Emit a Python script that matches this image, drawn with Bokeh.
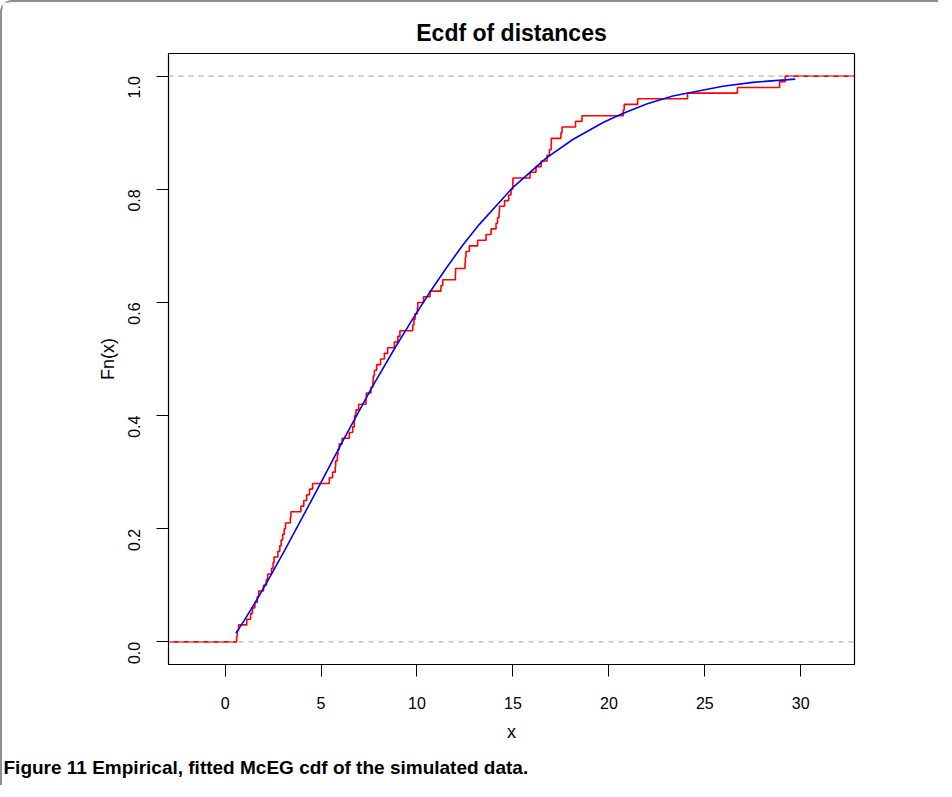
import math
from collections import Counter
from bokeh.plotting import figure
from bokeh.models import Span, Title, FixedTicker, Range1d, PrintfTickFormatter
from bokeh.embed import file_html
from bokeh.resources import INLINE

# ---- data ----
distances = [
    0.60, 0.64, 0.70, 1.13, 1.33, 1.42, 1.55, 1.68, 1.75, 2.00,
    2.15, 2.22, 2.42, 2.50, 2.55, 2.75, 2.85, 2.92, 3.00, 3.08,
    3.15, 3.40, 3.43, 3.95, 4.10, 4.25, 4.40, 4.56, 5.43, 5.60,
    5.74, 5.76, 5.85, 5.88, 5.95, 6.10, 6.47, 6.65, 6.73, 6.75,
    6.82, 6.96, 7.34, 7.36, 7.60, 7.70, 7.72, 7.78, 7.90, 8.10,
    8.30, 8.47, 8.82, 9.00, 9.11, 9.78, 9.84, 9.90, 10.02, 10.04,
    10.34, 10.68, 11.25, 11.34, 12.00, 12.01, 12.50, 12.52, 12.55, 12.73,
    13.16, 13.60, 13.86, 14.12, 14.20, 14.28, 14.30, 14.56, 14.78, 14.90,
    14.99, 15.00, 15.89, 16.20, 16.47, 16.78, 16.90, 16.99, 17.00, 17.50,
    17.56, 18.26, 18.60, 20.75, 20.80, 21.50, 24.10, 26.70, 28.90, 29.19,
]

fit_x = [0.56, 1.00, 1.61, 2.22, 3.09, 3.95, 5.00, 6.13, 7.69, 8.91,
         9.78, 10.65, 11.51, 12.40, 13.25, 14.99, 16.73, 18.12, 19.70,
         20.72, 22.00, 23.33, 25.94, 27.50, 29.71]
fit_y = [0.015, 0.038, 0.072, 0.108, 0.161, 0.215, 0.282, 0.355, 0.452, 0.523,
         0.571, 0.617, 0.660, 0.702, 0.738, 0.803, 0.855, 0.888, 0.918,
         0.934, 0.951, 0.965, 0.982, 0.989, 0.9947]

x_ticks = [0, 5, 10, 15, 20, 25, 30]
y_ticks = [0.0, 0.2, 0.4, 0.6, 0.8, 1.0]

title_text = "Ecdf of distances"
x_label = "x"
y_label = "Fn(x)"
caption = "Figure 11 Empirical, fitted McEG cdf of the simulated data."

X_MIN, X_MAX = -2.95, 32.8
Y_MIN, Y_MAX = -0.04, 1.04

# ---- empirical cdf staircase ----
n = len(distances)
counts = Counter(distances)
uniq = sorted(counts)
cum = []
c = 0
for u in uniq:
    c += counts[u]
    cum.append(c / n)
step_x = [X_MIN] + uniq + [X_MAX]
step_y = [0.0] + cum + [1.0]

FONT = "Liberation Sans"

p = figure(width=938, height=785, output_backend="svg", toolbar_location=None,
           x_range=Range1d(X_MIN, X_MAX), y_range=Range1d(Y_MIN, Y_MAX),
           min_border_left=166, min_border_right=86, min_border_top=51,
           min_border_bottom=122)
p.styles = {"border-top": "2px solid #8f8f8f", "border-left": "2px solid #8f8f8f",
            "border-top-left-radius": "12px"}

p.title.text = title_text
p.title.align = "center"
p.title.text_font = FONT
p.title.text_font_size = "23px"
p.title.text_font_style = "bold"
p.title.text_color = "black"
p.title.standoff = 15

p.grid.visible = False
p.outline_line_color = "black"
p.outline_line_width = 1.2
p.background_fill_color = "white"
p.border_fill_color = "white"

for ax in (p.xaxis[0], p.yaxis[0]):
    ax.axis_line_color = "black"
    ax.major_tick_line_color = "black"
    ax.major_tick_out = 12
    ax.major_tick_in = 0
    ax.minor_tick_line_color = None
    ax.major_label_text_font = FONT
    ax.major_label_text_font_size = "16px"
    ax.major_label_text_color = "black"
    ax.axis_label_text_font = FONT
    ax.axis_label_text_font_size = "18px"
    ax.axis_label_text_font_style = "normal"
    ax.axis_label_text_color = "black"

p.xaxis.ticker = FixedTicker(ticks=x_ticks)
p.yaxis.ticker = FixedTicker(ticks=y_ticks)
p.yaxis.formatter = PrintfTickFormatter(format="%.1f")
p.yaxis.major_label_orientation = math.pi / 2
p.xaxis.axis_label = x_label
p.yaxis.axis_label = y_label
p.xaxis.major_label_standoff = 20
p.yaxis.major_label_standoff = 22
p.xaxis.axis_label_standoff = 10
p.yaxis.axis_label_standoff = 2

p.step(step_x, step_y, mode="after", line_color="#ff0000", line_width=1.6)
p.line(fit_x, fit_y, line_color="#0000ff", line_width=1.6)

for yy in (0.0, 1.0):
    p.add_layout(Span(location=yy, dimension="width", line_color="#b3b3b3",
                      line_dash="5 5", line_width=1.2))

cap = Title(text=caption, align="left", offset=-165, text_font=FONT,
            text_font_size="19px", text_font_style="bold", text_color="black",
            standoff=20)
p.add_layout(cap, "below")

open("out.html", "w").write(file_html(p, INLINE))
